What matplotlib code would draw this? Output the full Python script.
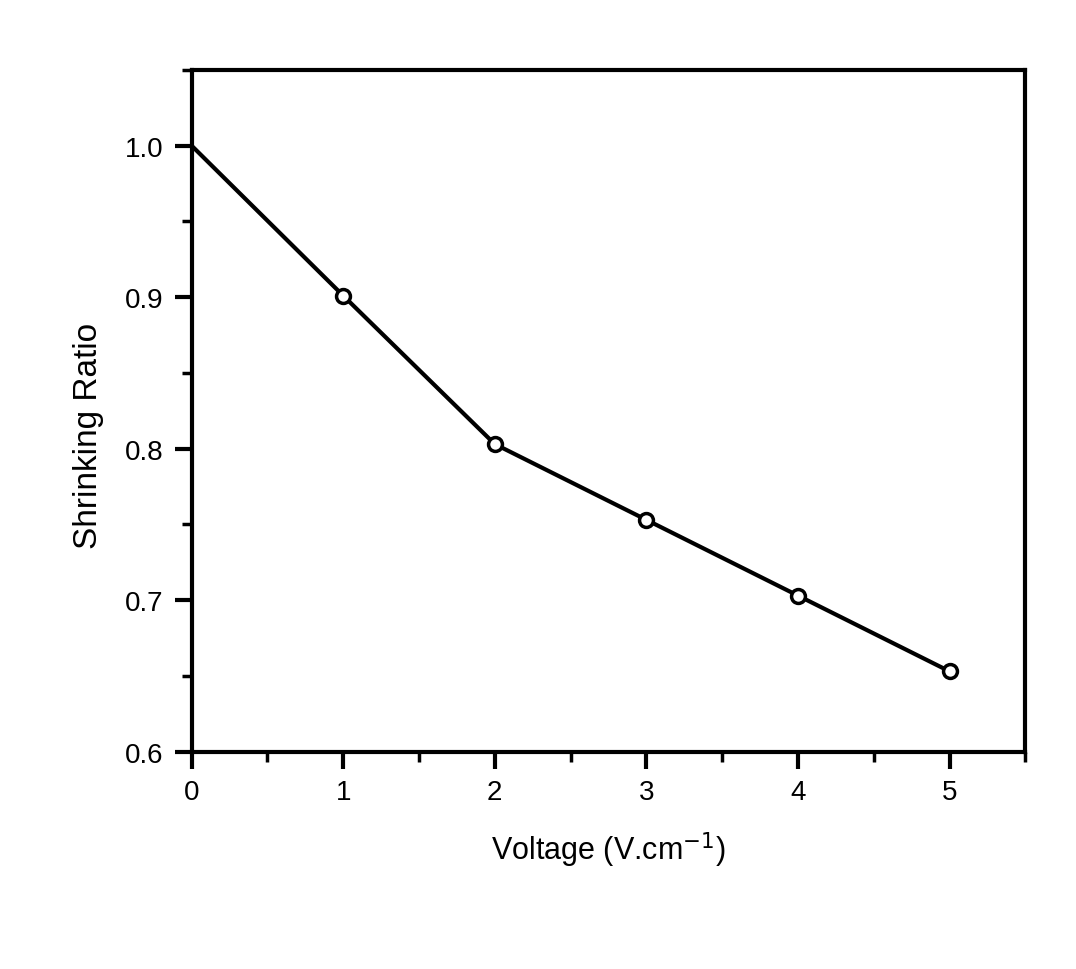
import matplotlib
matplotlib.use("Agg")
import matplotlib.pyplot as plt
from matplotlib.ticker import MultipleLocator

# values
voltage = [0, 1, 2, 3, 4, 5]
shrink_ratio = [1.0, 0.901, 0.803, 0.753, 0.703, 0.653]

plt.rcParams['font.family'] = ['Liberation Sans', 'DejaVu Sans']

fig = plt.figure(figsize=(10.76, 9.70), dpi=100)
ax = fig.add_axes([0.178, 0.224, 0.775, 0.703])

ax.plot(voltage, shrink_ratio, color='black', linewidth=3,
        marker='o', markersize=10, markerfacecolor='white',
        markeredgecolor='black', markeredgewidth=2.5, markevery=[1, 2, 3, 4, 5])

ax.set_xlim(0, 5.5)
ax.set_ylim(0.6, 1.05)
ax.xaxis.set_major_locator(MultipleLocator(1))
ax.xaxis.set_minor_locator(MultipleLocator(0.5))
ax.yaxis.set_major_locator(MultipleLocator(0.1))
ax.yaxis.set_minor_locator(MultipleLocator(0.05))
ax.yaxis.set_major_formatter(plt.FuncFormatter(lambda v, p: f"{v:.1f}"))

for s in ax.spines.values():
    s.set_linewidth(3)
ax.tick_params(which='major', direction='out', length=12, width=3, labelsize=20, pad=8)
ax.tick_params(which='minor', direction='out', length=7, width=2.5)

ax.set_xlabel('Voltage (V.cm$^{-1}$)', fontsize=22, labelpad=17)
ax.set_ylabel('Shrinking Ratio', fontsize=24)
ax.yaxis.set_label_coords(-0.105, 0.465)

fig.savefig('out.png', dpi=100, facecolor='white')
